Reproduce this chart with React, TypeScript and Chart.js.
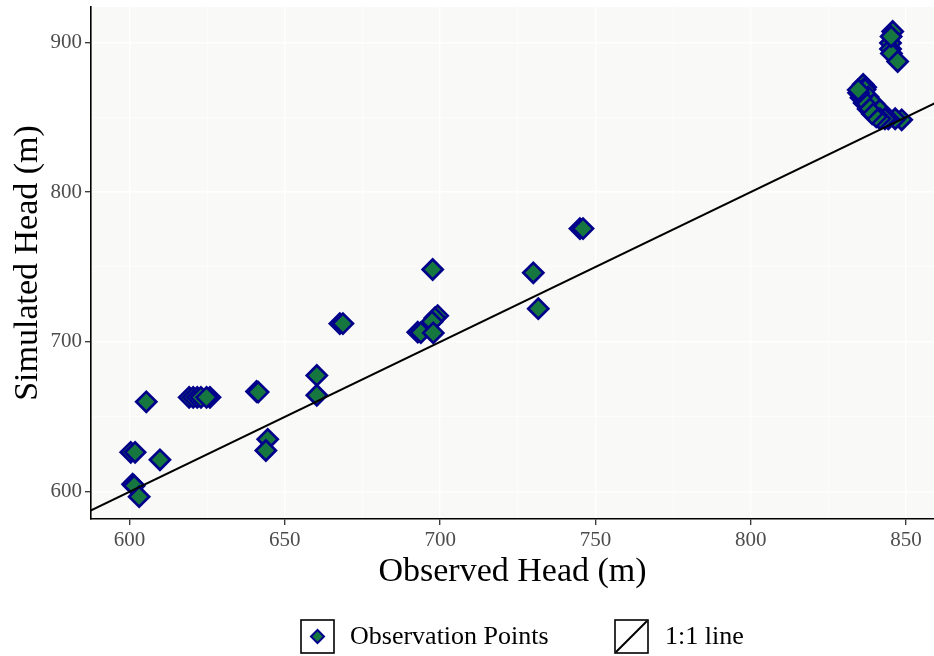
import React, { useEffect, useRef } from 'react';
import { Chart, registerables } from 'chart.js';

Chart.register(...registerables);

// Observed vs simulated hydraulic head (m)
const observedHead = [
  600.4, 601.8, 601.0, 601.5, 603.1, 605.4, 609.8,
  619.2, 620.5, 621.8, 623.0, 625.9, 624.8,
  640.9, 641.4, 644.5, 643.9, 660.3, 660.3, 667.7, 668.7,
  692.8, 693.8, 699.2, 698.3, 697.4, 697.8, 697.6,
  730.0, 731.6, 745.0, 746.0,
  845.7, 845.0, 845.0, 845.3, 847.3, 845.2,
  836.2, 837.0, 836.8, 837.8, 839.7, 841.6,
  848.6, 846.5, 844.3, 843.2, 841.6, 840.4, 839.1, 837.8, 836.5, 835.5, 834.7, 834.6,
];
const simulatedHead = [
  626.3, 626.3, 605.0, 604.0, 596.7, 660.0, 621.3,
  663.0, 663.0, 663.0, 663.0, 663.0, 663.0,
  666.9, 666.5, 635.0, 627.5, 677.6, 664.4, 712.2, 712.2,
  706.5, 706.2, 717.5, 716.0, 713.5, 706.0, 748.3,
  746.1, 722.2, 775.6, 775.6,
  907.2, 899.5, 895.5, 892.5, 887.1, 903.8,
  871.8, 870.0, 868.5, 863.5, 858.8, 854.8,
  848.2, 848.9, 848.9, 848.9, 848.9, 850.2, 852.2, 855.5, 859.5, 862.9, 866.2, 868.2,
];
// 1:1 reference line end points (clipped to the panel)
const oneToOneLine = [560, 960];

const xRange = [587.6, 859];
const yRange = [581.8, 923.5];
const xMajorStep = 50;
const yMajorStep = 100;

const seriesLabel = 'Observation Points';
const lineLabel = '1:1 line';
const xTitle = 'Observed Head (m)';
const yTitle = 'Simulated Head (m)';

const FONT = '"Liberation Serif", "Times New Roman", Times, serif';
const GREEN = '#16763F';
const NAVY = '#00008B';
const PANEL = '#F9F9F7';

const isMajor = (v: number, step: number) => Math.abs(Math.round(v) % step) === 0;

const panelBg = {
  id: 'panelBg',
  beforeDraw(chart: any) {
    const { ctx, chartArea: a } = chart;
    ctx.save();
    ctx.fillStyle = PANEL;
    ctx.fillRect(a.left, a.top, a.right - a.left, a.bottom - a.top);
    ctx.restore();
  },
};

const ggLegend = {
  id: 'ggLegend',
  afterDraw(chart: any) {
    const ctx = chart.ctx as CanvasRenderingContext2D;
    const boxSize = 33;
    const boxTop = 620;
    const items = [
      { kind: 'point', label: seriesLabel, boxLeft: 301, textLeft: 350 },
      { kind: 'line', label: lineLabel, boxLeft: 615, textLeft: 665 },
    ];
    ctx.save();
    for (const it of items) {
      ctx.lineWidth = 1.6;
      ctx.strokeStyle = '#000';
      ctx.strokeRect(it.boxLeft, boxTop, boxSize, boxSize);
      const cx = it.boxLeft + boxSize / 2;
      const cy = boxTop + boxSize / 2;
      if (it.kind === 'point') {
        const r = 6.5;
        ctx.beginPath();
        ctx.moveTo(cx - r, cy);
        ctx.lineTo(cx, cy - r);
        ctx.lineTo(cx + r, cy);
        ctx.lineTo(cx, cy + r);
        ctx.closePath();
        ctx.fillStyle = GREEN;
        ctx.fill();
        ctx.lineWidth = 2;
        ctx.strokeStyle = NAVY;
        ctx.stroke();
      } else {
        ctx.beginPath();
        ctx.moveTo(it.boxLeft + 1, boxTop + boxSize - 1);
        ctx.lineTo(it.boxLeft + boxSize - 1, boxTop + 1);
        ctx.lineWidth = 2;
        ctx.strokeStyle = '#000';
        ctx.stroke();
      }
      ctx.fillStyle = '#000';
      ctx.font = `26px ${FONT}`;
      ctx.textBaseline = 'middle';
      ctx.textAlign = 'left';
      ctx.fillText(it.label, it.textLeft, cy + 1);
    }
    ctx.restore();
  },
};

const clearPadding = (s: any) => {
  s.paddingTop = 0;
  s.paddingBottom = 0;
  s.paddingLeft = 0;
  s.paddingRight = 0;
};

export default function App() {
  const canvasRef = useRef<HTMLCanvasElement | null>(null);

  useEffect(() => {
    if (!canvasRef.current) return;
    const points = observedHead.map((x, i) => ({ x, y: simulatedHead[i] }));
    const line = oneToOneLine.map((v) => ({ x: v, y: v }));

    const chart = new Chart(canvasRef.current, {
      type: 'scatter',
      data: {
        datasets: [
          {
            type: 'line',
            label: lineLabel,
            data: line,
            borderColor: '#000',
            borderWidth: 2,
            pointRadius: 0,
            fill: false,
            order: 0,
          } as any,
          {
            type: 'scatter',
            label: seriesLabel,
            data: points,
            pointStyle: 'rectRot',
            pointRadius: 10,
            pointHoverRadius: 10,
            pointBackgroundColor: GREEN,
            pointBorderColor: NAVY,
            pointBorderWidth: 2.7,
            order: 1,
          } as any,
        ],
      },
      options: {
        responsive: false,
        animation: false,
        devicePixelRatio: 1,
        events: [],
        layout: { autoPadding: false, padding: { top: 7, right: 0, left: 0, bottom: 0 } },
        plugins: {
          legend: { display: false },
          tooltip: { enabled: false },
        },
        scales: {
          x: {
            type: 'linear',
            position: 'bottom',
            min: xRange[0],
            max: xRange[1],
            ticks: {
              stepSize: 25,
              includeBounds: false,
              autoSkip: false,
              maxRotation: 0,
              color: '#4D4D4D',
              padding: 3,
              font: { family: FONT, size: 21 },
              callback: (v: any) => (isMajor(Number(v), xMajorStep) ? String(Math.round(Number(v))) : ''),
            },
            grid: {
              color: '#FFFFFF',
              lineWidth: (c: any) => (c.tick && isMajor(c.tick.value, xMajorStep) ? 1.4 : 0.7),
              tickColor: (c: any) => (c.tick && isMajor(c.tick.value, xMajorStep) ? '#333333' : 'rgba(0,0,0,0)'),
              tickLength: 6,
              tickWidth: 1.3,
              drawTicks: true,
            },
            border: { display: true, color: '#000', width: 1.6 },
            title: {
              display: true,
              text: xTitle,
              color: '#000',
              font: { family: FONT, size: 34 },
              padding: { top: 0, bottom: 64 },
            },
            afterFit: (s: any) => {
              s.height = 137;
              clearPadding(s);
            },
          },
          y: {
            type: 'linear',
            position: 'left',
            min: yRange[0],
            max: yRange[1],
            ticks: {
              stepSize: 50,
              includeBounds: false,
              autoSkip: false,
              color: '#4D4D4D',
              padding: 3,
              font: { family: FONT, size: 21 },
              callback: (v: any) => (isMajor(Number(v), yMajorStep) ? String(Math.round(Number(v))) : ''),
            },
            grid: {
              color: '#FFFFFF',
              lineWidth: (c: any) => (c.tick && isMajor(c.tick.value, yMajorStep) ? 1.4 : 0.7),
              tickColor: (c: any) => (c.tick && isMajor(c.tick.value, yMajorStep) ? '#333333' : 'rgba(0,0,0,0)'),
              tickLength: 6,
              tickWidth: 1.3,
              drawTicks: true,
            },
            border: { display: true, color: '#000', width: 1.6 },
            title: {
              display: true,
              text: yTitle,
              color: '#000',
              font: { family: FONT, size: 34 },
              padding: { top: 8, bottom: 0 },
            },
            afterFit: (s: any) => {
              s.width = 91;
              clearPadding(s);
            },
          },
        },
      },
      plugins: [panelBg, ggLegend],
    });
    return () => chart.destroy();
  }, []);

  return (
    <div style={{ position: 'absolute', left: 0, top: 0, width: 934, height: 656, background: '#fff' }}>
      <canvas ref={canvasRef} width={934} height={656} style={{ display: 'block', width: 934, height: 656 }} />
    </div>
  );
}
